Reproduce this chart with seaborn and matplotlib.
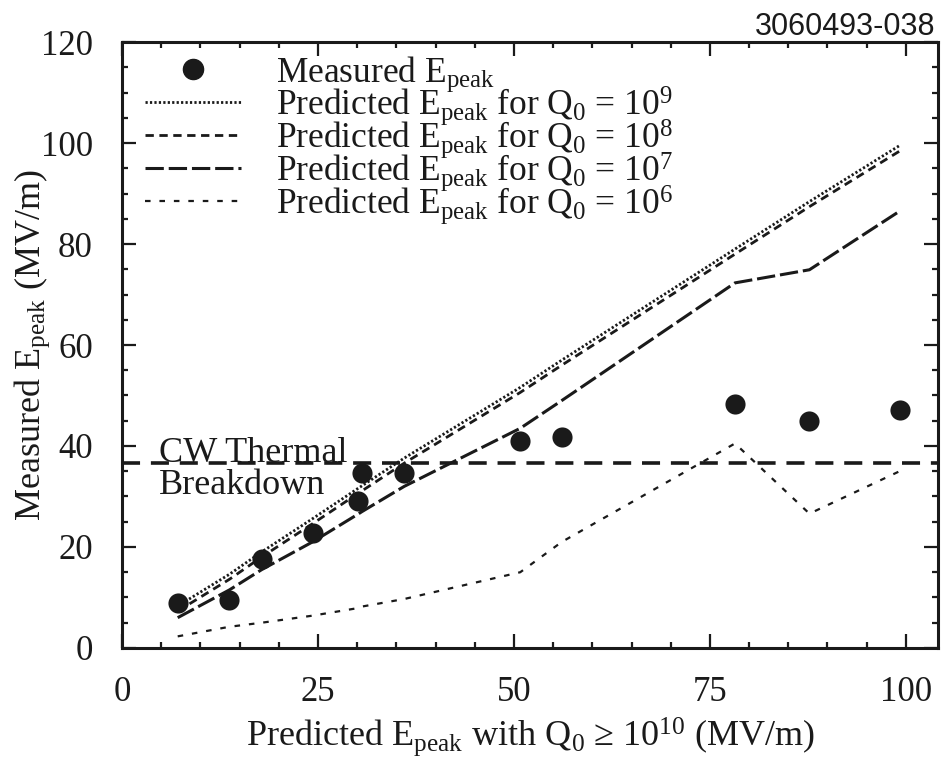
import numpy as np
import pandas as pd
import matplotlib
matplotlib.use('Agg')
import matplotlib.pyplot as plt
from matplotlib.lines import Line2D
from matplotlib.ticker import MultipleLocator
import seaborn as sns

# measured points (x = predicted Epeak with Q0 >= 1e10)
x_pred = [7.1, 13.7, 17.8, 24.3, 30.1, 30.6, 36.0, 50.8, 56.1, 78.2, 87.7, 99.2]
y_meas = [9.0, 9.5, 17.6, 22.8, 29.2, 34.6, 34.6, 41.0, 41.8, 48.3, 45.0, 47.1]

# predicted Epeak for lower Q0
y_q9 = [8.3, 14.6, 19.0, 25.6, 31.6, 32.1, 37.6, 51.6, 57.0, 79.0, 88.4, 99.5]
y_q8 = [7.3, 13.6, 18.0, 24.6, 30.6, 31.1, 36.6, 50.6, 56.0, 78.0, 87.4, 98.4]
y_q7 = [6.0, 11.5, 15.5, 21.0, 26.5, 27.0, 32.0, 43.5, 49.0, 72.3, 74.9, 86.5]
y_q6 = [2.3, 4.2, 5.0, 6.4, 7.9, 8.2, 9.7, 15.0, 21.0, 40.5, 26.6, 35.0]

cw_limit = 36.6

sns.set_theme(style='ticks', rc={'axes.edgecolor': 'k', 'text.color': 'k',
                                 'xtick.color': 'k', 'ytick.color': 'k',
                                 'axes.labelcolor': 'k'})
plt.rcParams['font.family'] = ['Liberation Serif', 'DejaVu Serif']
plt.rcParams['mathtext.fontset'] = 'custom'
plt.rcParams['mathtext.rm'] = 'Liberation Serif'
plt.rcParams['mathtext.it'] = 'Liberation Serif:italic'
plt.rcParams['mathtext.bf'] = 'Liberation Serif:bold'

fig = plt.figure(figsize=(9.41, 7.6), dpi=100)
ax = fig.add_axes([0.1297, 0.1474, 0.9968 - 0.1297, 0.9447 - 0.1474])

styles = {
    'q9': dict(lw=2.0, dashes=(0.8, 0.8)),
    'q8': dict(lw=2.0, dashes=(3, 2)),
    'q7': dict(lw=2.2, dashes=(6, 1.6)),
    'q6': dict(lw=1.6, dashes=(2.5, 4)),
}
series = {'q9': y_q9, 'q8': y_q8, 'q7': y_q7, 'q6': y_q6}
for key, vals in series.items():
    sns.lineplot(x=x_pred, y=vals, ax=ax, color='k', **styles[key])

ax.axhline(cw_limit, color='k', lw=2.6, dashes=(5, 3))

sns.scatterplot(x=x_pred, y=y_meas, ax=ax, color='k', s=210, edgecolor='k',
                linewidth=0, zorder=5)

ax.text(4.7, 36.9, 'CW Thermal', fontsize=26, ha='left', va='baseline')
ax.text(4.7, 30.4, 'Breakdown', fontsize=26, ha='left', va='baseline')

ax.set_xlim(0, 104.1)
ax.set_ylim(0, 120)
ax.xaxis.set_major_locator(MultipleLocator(25))
ax.xaxis.set_minor_locator(MultipleLocator(5))
ax.yaxis.set_major_locator(MultipleLocator(20))
ax.yaxis.set_minor_locator(MultipleLocator(5))
ax.tick_params(which='both', direction='in', top=True, right=True, width=1.6)
ax.tick_params(which='major', length=10, labelsize=25)
ax.tick_params(axis='x', which='major', pad=20)
ax.tick_params(axis='y', which='major', pad=21)
ax.tick_params(which='minor', length=4.5)
for sp in ax.spines.values():
    sp.set_linewidth(2.2)

ax.set_xlabel(r'Predicted E$_{\mathrm{peak}}$ with Q$_{\mathrm{0}}$ ≥ 10$^{\mathrm{10}}$ (MV/m)',
              fontsize=26, labelpad=5)
ax.set_ylabel(r'Measured E$_{\mathrm{peak}}$ (MV/m)', fontsize=26)
ax.yaxis.set_label_coords(-0.086, 0.5)

handles = [Line2D([], [], marker='o', ls='none', color='k', ms=14.5)]
for key in ['q9', 'q8', 'q7', 'q6']:
    handles.append(Line2D([], [], color='k', **styles[key]))
labels = [r'Measured E$_{\mathrm{peak}}$'] + [
    r'Predicted E$_{\mathrm{peak}}$ for Q$_{\mathrm{0}}$ = 10$^{\mathrm{%d}}$' % p
    for p in [9, 8, 7, 6]]
ax.legend(handles, labels, loc='upper left', frameon=False, fontsize=25.5,
          handlelength=2.7, handletextpad=1.0, labelspacing=-0.27,
          borderpad=0, borderaxespad=0, bbox_to_anchor=(0.028, 0.98))

fig.text(935 / 941, 1 - 27 / 760, '3060493-038', family='Liberation Sans',
         fontsize=22, ha='right', va='center')

fig.savefig('out.png', dpi=100)
